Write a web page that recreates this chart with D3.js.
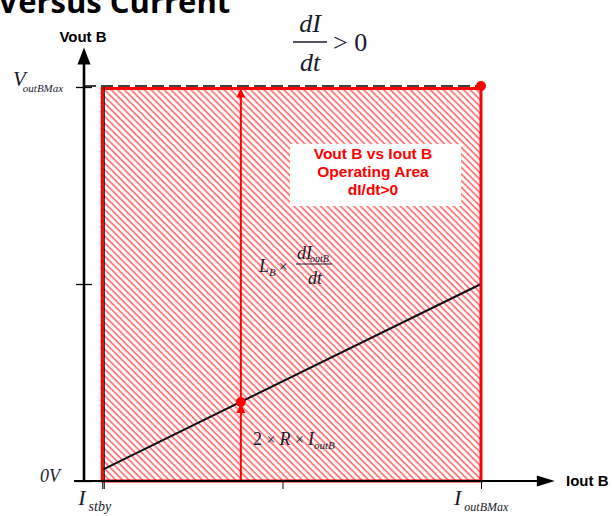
<!DOCTYPE html>
<html>
<head>
<meta charset="utf-8">
<script src="https://cdn.jsdelivr.net/npm/d3@7"></script>
<style>
  html, body { margin: 0; padding: 0; background: #fff; }
  svg { display: block; }
</style>
</head>
<body>
<svg id="chart" width="612" height="516"></svg>
<script>
// Operating-area values (normalised: I_outBMax = 1, V_outBMax = 1)
const currentStandby = 0.046;
const currentMax = 1;
const voltageMax = 1;
const xAxisEnd = 1.186;
const yAxisEnd = 1.1;

const xTickValues = [currentStandby, 0.5, currentMax];
const xTickMain = ["I", "", "I"];
const xTickSub = ["stby", "", "outBMax"];

const yTickValues = [0, 0.5, voltageMax];
const yTickMain = ["0V", "", "V"];
const yTickSub = ["", "", "outBMax"];

// Resistive drop 2·R·I_outB across the current range
const resistiveLine = [[currentStandby, 0.028], [currentMax, 0.5]];
// Example operating point and its inductive headroom
const operatingCurrent = 0.395;

const legendLines = ["Vout B vs Iout B", "Operating Area", "dI/dt>0"];

const RED = "#ff0000";
const svg = d3.select("#chart");

const x = d3.scaleLinear().domain([0, currentMax]).range([84, 481]);
const y = d3.scaleLinear().domain([0, voltageMax]).range([481, 87]);

// Hatch pattern for the operating area
const defs = svg.append("defs");
defs.append("pattern")
  .attr("id", "hatch")
  .attr("patternUnits", "userSpaceOnUse")
  .attr("width", 4.7).attr("height", 4.7)
  .attr("patternTransform", "rotate(-45)")
  .append("line")
  .attr("x1", 1).attr("y1", 0).attr("x2", 1).attr("y2", 4.7)
  .attr("stroke", RED).attr("stroke-width", 0.95);

// Title (partly above the visible area)
svg.append("text")
  .attr("x", -2).attr("y", 13)
  .attr("font-family", "Open Sans, sans-serif")
  .attr("font-weight", "bold")
  .attr("font-size", 31)
  .attr("fill", "#000")
  .text("Versus Current");

// Operating area fill
svg.append("rect")
  .attr("x", x(currentStandby)).attr("y", y(voltageMax) + 1.5)
  .attr("width", x(currentMax) - x(currentStandby))
  .attr("height", y(0) - y(voltageMax) - 1.5)
  .attr("fill", "url(#hatch)");

// Legend box
const legend = svg.append("g");
legend.append("rect")
  .attr("x", 290).attr("y", 144).attr("width", 171).attr("height", 62)
  .attr("fill", "#fff");
legend.selectAll("text").data(legendLines).join("text")
  .attr("x", 373).attr("y", (d, i) => 159 + i * 18)
  .attr("text-anchor", "middle")
  .attr("font-family", "Liberation Sans, Arial, sans-serif")
  .attr("font-weight", "bold")
  .attr("font-size", 15.5)
  .attr("fill", RED)
  .text(d => d);

// Resistive drop line
svg.append("line")
  .attr("x1", x(resistiveLine[0][0])).attr("y1", y(resistiveLine[0][1]))
  .attr("x2", x(resistiveLine[1][0])).attr("y2", y(resistiveLine[1][1]))
  .attr("stroke", "#111").attr("stroke-width", 2);

// Voltage at the operating point on the resistive line
const opV = d3.scaleLinear()
  .domain([resistiveLine[0][0], resistiveLine[1][0]])
  .range([resistiveLine[0][1], resistiveLine[1][1]])(operatingCurrent);

// Vertical arrow at the operating current
const ox = x(operatingCurrent);
svg.append("line")
  .attr("x1", ox).attr("y1", y(0)).attr("x2", ox).attr("y2", y(voltageMax) + 6)
  .attr("stroke", RED).attr("stroke-width", 2);
function upArrow(cx, tipY, w, h, color) {
  svg.append("path")
    .attr("d", `M${cx},${tipY} L${cx - w / 2},${tipY + h} L${cx + w / 2},${tipY + h} Z`)
    .attr("fill", color);
}
upArrow(ox, y(voltageMax) + 1.5, 9, 9, RED);
upArrow(ox, y(opV) + 2, 9, 9, RED);
svg.append("circle").attr("cx", ox).attr("cy", y(opV)).attr("r", 5).attr("fill", RED);

// Operating area outline
svg.append("rect")
  .attr("x", x(currentStandby)).attr("y", y(voltageMax) + 1.5)
  .attr("width", x(currentMax) - x(currentStandby))
  .attr("height", y(0) - y(voltageMax) - 1.5)
  .attr("fill", "none").attr("stroke", RED).attr("stroke-width", 3);

// Standby current marker line
svg.append("line")
  .attr("x1", x(currentStandby) + 2).attr("y1", y(voltageMax))
  .attr("x2", x(currentStandby) + 2).attr("y2", y(0) + 8)
  .attr("stroke", "#000").attr("stroke-width", 1);

// Maximum voltage dashed line
svg.append("line")
  .attr("x1", x(0)).attr("y1", y(voltageMax) - 1)
  .attr("x2", x(currentMax)).attr("y2", y(voltageMax) - 1)
  .attr("stroke", "#000").attr("stroke-width", 1.6)
  .attr("stroke-dasharray", "12,5");

// Corner point
svg.append("circle")
  .attr("cx", x(currentMax)).attr("cy", y(voltageMax) - 1)
  .attr("r", 5).attr("fill", RED);

// Axis ticks
svg.append("g")
  .attr("transform", "translate(76,0)")
  .call(d3.axisLeft(y).tickValues(yTickValues).tickSize(-16).tickFormat(""))
  .call(g => g.select(".domain").remove())
  .call(g => g.selectAll(".tick line").attr("stroke", "#000").attr("stroke-width", 1.3));
svg.append("g")
  .attr("transform", `translate(0,${y(0)})`)
  .call(d3.axisBottom(x).tickValues(xTickValues).tickSize(8).tickFormat(""))
  .call(g => g.select(".domain").remove())
  .call(g => g.selectAll(".tick line").attr("stroke", "#000").attr("stroke-width", 1));

// Axis lines with arrowheads
svg.append("line")
  .attr("x1", 74).attr("y1", y(0)).attr("x2", x(xAxisEnd) - 14).attr("y2", y(0))
  .attr("stroke", "#000").attr("stroke-width", 2);
svg.append("path")
  .attr("d", `M${x(xAxisEnd)},${y(0)} L${x(xAxisEnd) - 18},${y(0) - 5.5} L${x(xAxisEnd) - 18},${y(0) + 5.5} Z`)
  .attr("fill", "#000");
svg.append("line")
  .attr("x1", x(0)).attr("y1", y(0) + 1).attr("x2", x(0)).attr("y2", y(yAxisEnd) + 14)
  .attr("stroke", "#000").attr("stroke-width", 2.6);
upArrow(x(0), y(yAxisEnd), 13, 17, "#000");

// Axis titles
svg.append("text")
  .attr("x", 83).attr("y", 42).attr("text-anchor", "middle")
  .attr("font-family", "Liberation Sans, Arial, sans-serif")
  .attr("font-weight", "bold").attr("font-size", 15)
  .text("Vout B");
svg.append("text")
  .attr("x", 566).attr("y", 486)
  .attr("font-family", "Liberation Sans, Arial, sans-serif")
  .attr("font-weight", "bold").attr("font-size", 15)
  .text("Iout B");

const SERIF = "Liberation Serif, Times New Roman, serif";
const INK = "#1a1a2e";

// Y tick labels
yTickValues.forEach((v, i) => {
  if (!yTickMain[i]) return;
  const t = svg.append("text")
    .attr("font-family", SERIF).attr("font-style", "italic").attr("fill", INK);
  if (yTickSub[i]) {
    t.attr("x", 13).attr("y", y(v) - 1).attr("font-size", 21);
    t.append("tspan").text(yTickMain[i]);
    t.append("tspan").attr("dy", 6).attr("dx", -3).attr("font-size", 11).text(yTickSub[i]);
  } else {
    t.attr("x", 60).attr("y", y(v) + 1).attr("text-anchor", "end").attr("font-size", 18)
      .text(yTickMain[i]);
  }
});

// X tick labels
xTickValues.forEach((v, i) => {
  if (!xTickMain[i]) return;
  const t = svg.append("text")
    .attr("x", x(v) - 24 + (i === 0 ? 0 : -3)).attr("y", 505)
    .attr("font-family", SERIF).attr("font-style", "italic").attr("fill", INK)
    .attr("font-size", 22);
  t.append("tspan").text(xTickMain[i]);
  t.append("tspan").attr("dy", 6).attr("dx", 3).attr("font-size", i === 0 ? 14 : 12).text(xTickSub[i]);
});

// dI/dt > 0 heading
const fx = 310;
svg.append("text").attr("x", fx).attr("y", 32).attr("text-anchor", "middle")
  .attr("font-family", SERIF).attr("font-style", "italic").attr("font-size", 26)
  .attr("fill", INK).text("dI");
svg.append("line").attr("x1", fx - 17).attr("x2", fx + 17).attr("y1", 42).attr("y2", 42)
  .attr("stroke", INK).attr("stroke-width", 1.4);
svg.append("text").attr("x", fx).attr("y", 71).attr("text-anchor", "middle")
  .attr("font-family", SERIF).attr("font-style", "italic").attr("font-size", 26)
  .attr("fill", INK).text("dt");
svg.append("text").attr("x", 333).attr("y", 51)
  .attr("font-family", SERIF).attr("font-size", 26)
  .attr("fill", INK).text("> 0");

// Inductive term L_B × dI_outB/dt
const lt = svg.append("text").attr("x", 259).attr("y", 272)
  .attr("font-family", SERIF).attr("font-size", 18).attr("fill", INK);
lt.append("tspan").attr("font-style", "italic").text("L");
lt.append("tspan").attr("font-style", "italic").attr("font-size", 11).attr("dy", 4).text("B");
lt.append("tspan").attr("dy", -4).attr("dx", 3).attr("font-size", 16).text("×");
const num = svg.append("text").attr("x", 297).attr("y", 259)
  .attr("font-family", SERIF).attr("font-style", "italic").attr("font-size", 18).attr("fill", INK);
num.append("tspan").text("dI");
num.append("tspan").attr("font-size", 10).attr("dy", 3).attr("dx", -2).text("outB");
svg.append("line").attr("x1", 296).attr("x2", 332).attr("y1", 264).attr("y2", 264)
  .attr("stroke", INK).attr("stroke-width", 1);
svg.append("text").attr("x", 315).attr("y", 284).attr("text-anchor", "middle")
  .attr("font-family", SERIF).attr("font-style", "italic").attr("font-size", 18)
  .attr("fill", INK).text("dt");

// Resistive term 2 × R × I_outB
const rt = svg.append("text").attr("x", 253).attr("y", 445)
  .attr("font-family", SERIF).attr("font-size", 18).attr("fill", INK);
rt.append("tspan").text("2 ");
rt.append("tspan").attr("font-size", 16).text("× ");
rt.append("tspan").attr("font-style", "italic").text("R ");
rt.append("tspan").attr("font-size", 16).text("× ");
rt.append("tspan").attr("font-style", "italic").text("I");
rt.append("tspan").attr("font-style", "italic").attr("font-size", 11).attr("dy", 4).text("outB");
</script>
</body>
</html>
